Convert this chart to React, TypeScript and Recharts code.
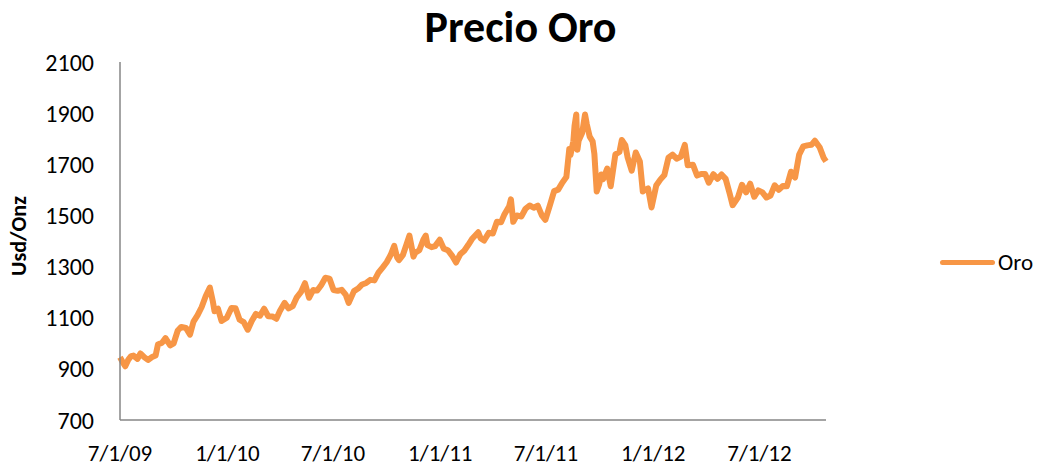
import React from "react";
import { LineChart, Line, XAxis, YAxis } from "recharts";

// gold price, roughly weekly readings (usd/oz)
const dates = [
  "2009-07-01", "2009-07-06", "2009-07-10", "2009-07-15", "2009-07-20", "2009-07-24", "2009-07-31",
  "2009-08-05", "2009-08-12", "2009-08-18", "2009-08-25", "2009-08-31", "2009-09-04", "2009-09-11",
  "2009-09-17", "2009-09-25", "2009-10-01", "2009-10-08", "2009-10-14", "2009-10-22", "2009-10-29",
  "2009-11-04", "2009-11-11", "2009-11-18", "2009-11-25", "2009-12-02", "2009-12-07", "2009-12-10",
  "2009-12-16", "2009-12-22", "2009-12-31",
  "2010-01-08", "2010-01-15", "2010-01-22", "2010-01-29", "2010-02-05", "2010-02-12", "2010-02-19",
  "2010-02-26", "2010-03-05", "2010-03-12", "2010-03-19", "2010-03-26", "2010-04-01", "2010-04-09",
  "2010-04-16", "2010-04-23", "2010-04-30", "2010-05-07", "2010-05-14", "2010-05-21", "2010-05-28",
  "2010-06-04", "2010-06-11", "2010-06-18", "2010-06-25", "2010-07-02", "2010-07-09", "2010-07-16",
  "2010-07-23", "2010-07-28", "2010-08-06", "2010-08-13", "2010-08-20", "2010-08-27", "2010-09-03",
  "2010-09-10", "2010-09-17", "2010-09-24", "2010-10-01", "2010-10-08", "2010-10-14", "2010-10-19",
  "2010-10-22", "2010-10-29", "2010-11-05", "2010-11-09", "2010-11-16", "2010-11-19", "2010-11-26",
  "2010-12-03", "2010-12-07", "2010-12-10", "2010-12-17", "2010-12-23", "2010-12-31",
  "2011-01-07", "2011-01-14", "2011-01-21", "2011-01-28", "2011-02-04", "2011-02-11", "2011-02-18",
  "2011-02-25", "2011-03-07", "2011-03-11", "2011-03-17", "2011-03-25", "2011-04-01", "2011-04-08",
  "2011-04-15", "2011-04-21", "2011-04-29", "2011-05-02", "2011-05-06", "2011-05-12", "2011-05-20",
  "2011-05-27", "2011-06-03", "2011-06-10", "2011-06-17", "2011-06-24", "2011-06-30", "2011-07-08",
  "2011-07-15", "2011-07-22", "2011-07-29", "2011-08-05", "2011-08-10", "2011-08-12", "2011-08-17",
  "2011-08-19", "2011-08-22", "2011-08-24", "2011-08-26", "2011-09-01", "2011-09-06", "2011-09-09",
  "2011-09-14", "2011-09-19", "2011-09-22", "2011-09-26", "2011-09-30", "2011-10-04", "2011-10-07",
  "2011-10-14", "2011-10-20", "2011-10-28", "2011-11-04", "2011-11-08", "2011-11-14", "2011-11-18",
  "2011-11-25", "2011-12-02", "2011-12-09", "2011-12-14", "2011-12-16", "2011-12-23", "2011-12-29",
  "2012-01-06", "2012-01-13", "2012-01-20", "2012-01-27", "2012-02-03", "2012-02-10", "2012-02-17",
  "2012-02-24", "2012-02-29", "2012-03-09", "2012-03-16", "2012-03-23", "2012-03-30", "2012-04-05",
  "2012-04-13", "2012-04-20", "2012-04-27", "2012-05-04", "2012-05-11", "2012-05-16", "2012-05-25",
  "2012-06-01", "2012-06-08", "2012-06-15", "2012-06-22", "2012-06-29", "2012-07-06", "2012-07-13",
  "2012-07-20", "2012-07-27", "2012-08-03", "2012-08-10", "2012-08-17", "2012-08-24", "2012-08-31",
  "2012-09-07", "2012-09-14", "2012-09-21", "2012-09-28", "2012-10-04", "2012-10-12", "2012-10-19",
  "2012-10-23",
];

const prices = [
  945, 925, 910, 935, 950, 952, 939,
  960, 945, 935, 946, 952, 995, 1002,
  1020, 992, 1000, 1050, 1064, 1060, 1034,
  1085, 1110, 1142, 1185, 1218, 1165, 1125,
  1135, 1087, 1100,
  1138, 1137, 1092, 1083, 1053, 1088, 1115,
  1108, 1135, 1106, 1105, 1096, 1126, 1158,
  1136, 1145, 1180, 1200, 1235, 1178, 1208,
  1206, 1228, 1256, 1253, 1208, 1205, 1209,
  1189, 1158, 1204, 1214, 1230, 1236, 1248,
  1246, 1276, 1296, 1317, 1346, 1381, 1335,
  1325, 1346, 1393, 1421, 1339, 1354, 1364,
  1406, 1421, 1384, 1376, 1380, 1405,
  1370, 1364, 1343, 1316, 1348, 1362, 1385,
  1410, 1434, 1411, 1402, 1432, 1429, 1475,
  1473, 1505, 1536, 1563, 1475, 1500, 1496,
  1526, 1539, 1530, 1538, 1500, 1483, 1541,
  1595, 1601, 1628, 1650, 1760, 1736, 1790,
  1850, 1895, 1757, 1792, 1822, 1895, 1857,
  1808, 1790, 1741, 1594, 1620, 1660, 1642,
  1683, 1614, 1739, 1748, 1795, 1775, 1727,
  1675, 1746, 1711, 1594, 1598, 1606, 1531,
  1617, 1640, 1658, 1726, 1738, 1722, 1729,
  1776, 1696, 1698, 1656, 1662, 1662, 1628,
  1661, 1643, 1660, 1643, 1585, 1540, 1570,
  1620, 1590, 1624, 1573, 1598, 1590, 1570,
  1578, 1618, 1600, 1615, 1614, 1671, 1648,
  1738, 1770, 1774, 1776, 1792, 1767, 1725,
  1711,
];

const tickDates = ["2009-07-01", "2010-01-01", "2010-07-01", "2011-01-01", "2011-07-01", "2012-01-01", "2012-07-01"];
const tickLabels = ["7/1/09", "1/1/10", "7/1/10", "1/1/11", "7/1/11", "1/1/12", "7/1/12"];
const yTicks = [700, 900, 1100, 1300, 1500, 1700, 1900, 2100];

const font = "Carlito, Calibri, 'Open Sans', sans-serif";
const orange = "#F79646";

const data = dates.map((d, i) => ({ t: Date.parse(d), v: prices[i] }));
const tickTimes = tickDates.map((d) => Date.parse(d));

const fmtDate = (t: number) => {
  const i = tickTimes.indexOf(t);
  return i >= 0 ? tickLabels[i] : "";
};

const YLabel = (props: any) => {
  const vb = props.viewBox || { x: 0, y: 0, height: 0 };
  const cx = vb.x + 18;
  const cy = vb.y + vb.height / 2 - 5;
  return (
    <text
      x={cx}
      y={cy}
      transform={`rotate(-90 ${cx} ${cy})`}
      textAnchor="middle"
      dominantBaseline="central"
      fontFamily={font}
      fontWeight="bold"
      fontSize={22}
      fill="#000"
    >
      Usd/Onz
    </text>
  );
};

const App: React.FC = () => {
  return (
    <div
      style={{
        position: "absolute",
        left: 0,
        top: 0,
        width: 1041,
        height: 470,
        background: "#fff",
        fontFamily: font,
      }}
    >
      <div
        style={{
          position: "absolute",
          top: 0,
          left: 0,
          width: 1041,
          textAlign: "center",
          fontSize: 44,
          lineHeight: "normal",
          fontWeight: "bold",
          color: "#000",
        }}
      >
        Precio Oro
      </div>
      <LineChart
        width={1041}
        height={470}
        data={data}
        margin={{ top: 62, right: 215, bottom: 0, left: 0 }}
      >
        <XAxis
          dataKey="t"
          type="number"
          scale="time"
          domain={[data[0].t, data[data.length - 1].t]}
          ticks={tickTimes}
          interval={0}
          tickFormatter={fmtDate}
          height={50}
          tickLine={false}
          tickSize={0}
          tickMargin={25}
          axisLine={{ stroke: "#868686", strokeWidth: 1.5 }}
          tick={{ fill: "#000", fontSize: 23, fontFamily: font }}
        />
        <YAxis
          type="number"
          domain={[700, 2100]}
          ticks={yTicks}
          interval={0}
          width={120}
          tickLine={false}
          tickSize={0}
          tickMargin={26}
          axisLine={{ stroke: "#868686", strokeWidth: 1.5 }}
          tick={{ fill: "#000", fontSize: 24, fontFamily: font }}
          label={{ content: YLabel }}
        />
        <Line
          type="linear"
          dataKey="v"
          stroke={orange}
          strokeWidth={6}
          strokeLinejoin="round"
          dot={false}
          isAnimationActive={false}
        />
      </LineChart>
      <div
        style={{
          position: "absolute",
          left: 940,
          top: 247,
          height: 30,
          display: "flex",
          alignItems: "center",
          fontSize: 23,
          color: "#000",
        }}
      >
        <span
          style={{
            display: "inline-block",
            width: 55,
            height: 5,
            borderRadius: 3,
            background: orange,
            marginRight: 3,
          }}
        />
        <span>Oro</span>
      </div>
    </div>
  );
};

export default App;
